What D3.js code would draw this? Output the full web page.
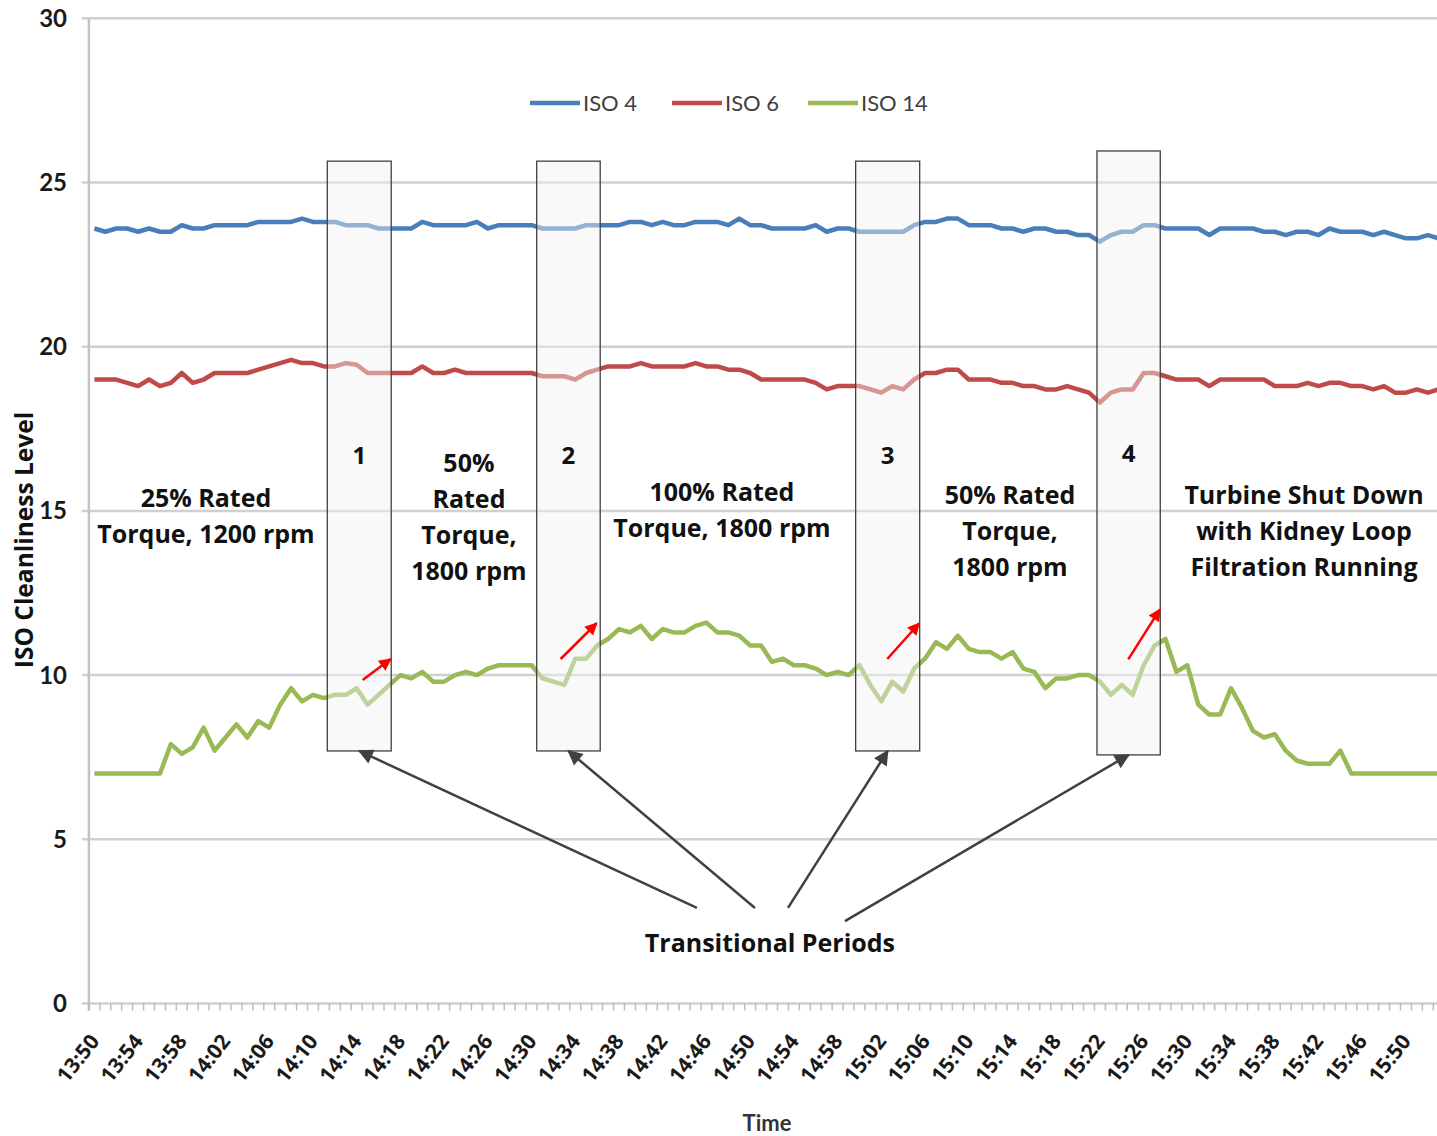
<!DOCTYPE html>
<html><head><meta charset="utf-8">
<script src="https://cdn.jsdelivr.net/npm/d3@7"></script>
<style>body{margin:0;background:#fff;overflow:hidden} svg{display:block}</style>
</head><body>
<svg id="chart" width="1437" height="1136"></svg>
<script>
// ---------- data ----------
const iso4 = [23.6,23.5,23.6,23.6,23.5,23.6,23.5,23.5,23.7,23.6,
  23.6,23.7,23.7,23.7,23.7,23.8,23.8,23.8,23.8,23.9,
  23.8,23.8,23.8,23.7,23.7,23.7,23.6,23.6,23.6,23.6,
  23.8,23.7,23.7,23.7,23.7,23.8,23.6,23.7,23.7,23.7,
  23.7,23.6,23.6,23.6,23.6,23.7,23.7,23.7,23.7,23.8,
  23.8,23.7,23.8,23.7,23.7,23.8,23.8,23.8,23.7,23.9,
  23.7,23.7,23.6,23.6,23.6,23.6,23.7,23.5,23.6,23.6,
  23.5,23.5,23.5,23.5,23.5,23.7,23.8,23.8,23.9,23.9,
  23.7,23.7,23.7,23.6,23.6,23.5,23.6,23.6,23.5,23.5,
  23.4,23.4,23.2,23.4,23.5,23.5,23.7,23.7,23.6,23.6,
  23.6,23.6,23.4,23.6,23.6,23.6,23.6,23.5,23.5,23.4,
  23.5,23.5,23.4,23.6,23.5,23.5,23.5,23.4,23.5,23.4,
  23.3,23.3,23.4,23.3];
const iso6 = [19.0,19.0,19.0,18.9,18.8,19.0,18.8,18.9,19.2,18.9,
  19.0,19.2,19.2,19.2,19.2,19.3,19.4,19.5,19.6,19.5,
  19.5,19.4,19.4,19.5,19.45,19.2,19.2,19.2,19.2,19.2,
  19.4,19.2,19.2,19.3,19.2,19.2,19.2,19.2,19.2,19.2,
  19.2,19.1,19.1,19.1,19.0,19.2,19.3,19.4,19.4,19.4,
  19.5,19.4,19.4,19.4,19.4,19.5,19.4,19.4,19.3,19.3,
  19.2,19.0,19.0,19.0,19.0,19.0,18.9,18.7,18.8,18.8,
  18.8,18.7,18.6,18.8,18.7,19.0,19.2,19.2,19.3,19.3,
  19.0,19.0,19.0,18.9,18.9,18.8,18.8,18.7,18.7,18.8,
  18.7,18.6,18.3,18.6,18.7,18.7,19.2,19.2,19.1,19.0,
  19.0,19.0,18.8,19.0,19.0,19.0,19.0,19.0,18.8,18.8,
  18.8,18.9,18.8,18.9,18.9,18.8,18.8,18.7,18.8,18.6,
  18.6,18.7,18.6,18.7];
const iso14 = [7.0,7.0,7.0,7.0,7.0,7.0,7.0,
  7.9,7.6,7.8,8.4,7.7,8.1,8.5,8.1,8.6,8.4,
  9.1,9.6,9.2,9.4,9.3,9.4,9.4,9.6,9.1,9.4,
  9.7,10.0,9.9,10.1,9.8,9.8,10.0,10.1,10.0,10.2,
  10.3,10.3,10.3,10.3,9.9,9.8,9.7,10.5,10.5,10.9,
  11.1,11.4,11.3,11.5,11.1,11.4,11.3,11.3,11.5,11.6,
  11.3,11.3,11.2,10.9,10.9,10.4,10.5,10.3,10.3,10.2,
  10.0,10.1,10.0,10.3,9.7,9.2,9.8,9.5,10.2,10.5,
  11.0,10.8,11.2,10.8,10.7,10.7,10.5,10.7,10.2,10.1,
  9.6,9.9,9.9,10.0,10.0,9.8,9.4,9.7,9.4,10.3,
  10.9,11.1,10.1,10.3,9.1,8.8,8.8,9.6,9.0,8.3,
  8.1,8.2,7.7,7.4,7.3,7.3,7.3,7.7,
  7.0,7.0,7.0,7.0,7.0,7.0,7.0,7.0,7.0];
const seriesNames = ["ISO 4", "ISO 6", "ISO 14"];
const seriesColors = ["#4a7ebb", "#be4b48", "#98b954"];
// one category per minute, starting at 13:50
const times = iso4.map((_, i) => {
  const m = 13 * 60 + 50 + i;
  return String(Math.floor(m / 60)) + ":" + String(m % 60).padStart(2, "0");
});
const tickLabels = ["13:50","13:54","13:58","14:02","14:06","14:10","14:14","14:18","14:22","14:26","14:30",
  "14:34","14:38","14:42","14:46","14:50","14:54","14:58","15:02","15:06","15:10","15:14","15:18",
  "15:22","15:26","15:30","15:34","15:38","15:42","15:46","15:50"];
const yTicks = [0, 5, 10, 15, 20, 25, 30];

// annotations (x in minutes from 13:50, y in ISO level units)
const boxes = [
  {label: "1", x0: 21.31, x1: 27.16, top: 25.65, bottom: 7.69, ly: 16.67},
  {label: "2", x0: 40.47, x1: 46.28, top: 25.65, bottom: 7.69, ly: 16.67},
  {label: "3", x0: 69.65, x1: 75.51, top: 25.65, bottom: 7.69, ly: 16.67},
  {label: "4", x0: 91.73, x1: 97.52, top: 25.96, bottom: 7.57, ly: 16.76}
];
const redArrows = [
  [24.55, 9.85, 27.11, 10.49],
  [42.66, 10.49, 45.96, 11.58],
  [72.54, 10.49, 75.47, 11.58],
  [94.59, 10.48, 97.49, 12.0]
];
const blackArrowStarts = [[55.13, 2.91], [60.44, 2.91], [63.46, 2.91], [68.67, 2.51]];
const phaseTexts = [
  {x: 10.21, y: 14.83, lines: ["25% Rated", "Torque, 1200 rpm"]},
  {x: 34.27, y: 14.81, lines: ["50%", "Rated", "Torque,", "1800 rpm"]},
  {x: 57.42, y: 15.03, lines: ["100% Rated", "Torque, 1800 rpm"]},
  {x: 83.77, y: 14.39, lines: ["50% Rated", "Torque,", "1800 rpm"]},
  {x: 110.67, y: 14.39, lines: ["Turbine Shut Down", "with Kidney Loop", "Filtration Running"]}
];
const transitionalLabel = {x: 61.81, y: 1.84, text: "Transitional Periods"};

// ---------- layout ----------
const svg = d3.select("#chart");
const plotLeft = 88.9, catStep = 10.93, plotTop = 18.3, plotBottom = 1003.5, plotRight = 1437;
const x = d3.scaleBand().domain(times).range([plotLeft, plotLeft + catStep * times.length]).paddingInner(0).paddingOuter(0);
const bw = x.bandwidth();
const xc = c => x(c) + bw / 2;
const xm = d3.scaleLinear().domain([0, times.length - 1]).range([xc(times[0]), xc(times[times.length - 1])]);
const y = d3.scaleLinear().domain([0, 30]).range([plotBottom, plotTop]);
const font = "Lato, 'Open Sans', sans-serif";
const wideFont = "'Open Sans', Lato, sans-serif";

// gridlines
svg.append("g").selectAll("line").data(yTicks).join("line")
  .attr("x1", plotLeft - 7).attr("x2", plotRight)
  .attr("y1", d => y(d)).attr("y2", d => y(d))
  .attr("stroke", "#d0d0d0").attr("stroke-width", 2.5);
// y axis line
svg.append("line").attr("x1", plotLeft).attr("x2", plotLeft).attr("y1", y(30)).attr("y2", y(0) + 7)
  .attr("stroke", "#c4c4c4").attr("stroke-width", 2.5);
// x axis ticks (category boundaries)
const xTicks = d3.range(times.length + 1).map(i => plotLeft + i * bw);
svg.append("g").selectAll("line").data(xTicks).join("line")
  .attr("x1", d => d).attr("x2", d => d).attr("y1", y(0)).attr("y2", y(0) + 7)
  .attr("stroke", "#bdbdbd").attr("stroke-width", 1.5);
// y tick labels
svg.append("g").selectAll("text").data(yTicks).join("text")
  .attr("x", 67).attr("y", d => y(d)).attr("dy", "0.35em")
  .attr("text-anchor", "end").attr("font-family", font).attr("font-weight", 700)
  .attr("font-size", 24).attr("fill", "#1a1a1a").text(d => d);
// x tick labels
svg.append("g").selectAll("text").data(tickLabels).join("text")
  .attr("transform", d => `translate(${xc(d) + 6},${y(0) + 38}) rotate(-52)`)
  .attr("text-anchor", "end").attr("font-family", wideFont).attr("font-weight", 700)
  .attr("font-size", 21).attr("fill", "#1a1a1a").text(d => d);
// axis titles
svg.append("text").attr("x", 767).attr("y", 1123).attr("dy", "0.35em").attr("text-anchor", "middle")
  .attr("font-family", font).attr("font-weight", 700).attr("font-size", 22).attr("fill", "#333").text("Time");
svg.append("text").attr("transform", "translate(24,540) rotate(-90)").attr("dy", "0.35em")
  .attr("text-anchor", "middle").attr("font-family", wideFont).attr("font-weight", 700)
  .attr("font-size", 24.5).attr("fill", "#111").text("ISO Cleanliness Level");

// series lines
const series = [iso4, iso6, iso14];
const line = d3.line().x((d, i) => xm(i)).y(d => y(d));
svg.append("g").selectAll("path").data(series).join("path")
  .attr("d", line).attr("fill", "none")
  .attr("stroke", (d, i) => seriesColors[i]).attr("stroke-width", 4.5)
  .attr("stroke-linejoin", "round");

// legend
const legendX = [530, 672, 808];
const lg = svg.append("g").selectAll("g").data(seriesNames).join("g")
  .attr("transform", (d, i) => `translate(${legendX[i]},103)`);
lg.append("line").attr("x1", 0).attr("x2", 50).attr("stroke", (d, i) => seriesColors[i]).attr("stroke-width", 4.5);
lg.append("text").attr("x", 53).attr("dy", "0.35em").attr("font-family", font)
  .attr("font-size", 22).attr("fill", "#404040").text(d => d);

// transition boxes
svg.append("g").selectAll("rect").data(boxes).join("rect")
  .attr("x", d => xm(d.x0)).attr("width", d => xm(d.x1) - xm(d.x0))
  .attr("y", d => y(d.top)).attr("height", d => y(d.bottom) - y(d.top))
  .attr("fill", "#f2f2f2").attr("fill-opacity", 0.45)
  .attr("stroke", "#404040").attr("stroke-width", 1.3);
svg.append("g").selectAll("text").data(boxes).join("text")
  .attr("x", d => xm((d.x0 + d.x1) / 2)).attr("y", d => y(d.ly)).attr("dy", "0.35em")
  .attr("text-anchor", "middle").attr("font-family", wideFont).attr("font-weight", 700)
  .attr("font-size", 24).attr("fill", "#111").text(d => d.label);

// arrow markers
const defs = svg.append("defs");
defs.append("marker").attr("id", "ahBlack").attr("viewBox", "0 0 10 10").attr("refX", 9).attr("refY", 5)
  .attr("markerWidth", 7).attr("markerHeight", 6).attr("markerUnits", "strokeWidth").attr("orient", "auto")
  .append("path").attr("d", "M0,0 L10,5 L0,10 Z").attr("fill", "#404040");
defs.append("marker").attr("id", "ahRed").attr("viewBox", "0 0 10 10").attr("refX", 9).attr("refY", 5)
  .attr("markerWidth", 6).attr("markerHeight", 5).attr("markerUnits", "strokeWidth").attr("orient", "auto")
  .append("path").attr("d", "M0,0 L10,5 L0,10 Z").attr("fill", "#ff0000");

svg.append("g").selectAll("line").data(blackArrowStarts).join("line")
  .attr("x1", d => xm(d[0])).attr("y1", d => y(d[1]))
  .attr("x2", (d, i) => xm((boxes[i].x0 + boxes[i].x1) / 2)).attr("y2", (d, i) => y(boxes[i].bottom))
  .attr("stroke", "#404040").attr("stroke-width", 2.5).attr("marker-end", "url(#ahBlack)");
svg.append("g").selectAll("line").data(redArrows).join("line")
  .attr("x1", d => xm(d[0])).attr("y1", d => y(d[1]))
  .attr("x2", d => xm(d[2])).attr("y2", d => y(d[3]))
  .attr("stroke", "#ff0000").attr("stroke-width", 2.5).attr("marker-end", "url(#ahRed)");

// phase texts
const pt = svg.append("g").selectAll("text").data(phaseTexts).join("text")
  .attr("text-anchor", "middle").attr("font-family", wideFont).attr("font-weight", 700)
  .attr("font-size", 25).attr("fill", "#111");
pt.selectAll("tspan").data(d => d.lines.map((l, k) => ({l, k, n: d.lines.length, d}))).join("tspan")
  .attr("x", t => xm(t.d.x))
  .attr("y", t => y(t.d.y) + (t.k - (t.n - 1) / 2) * 36)
  .attr("dy", "0.35em").text(t => t.l);
svg.append("text").attr("x", xm(transitionalLabel.x)).attr("y", y(transitionalLabel.y)).attr("dy", "0.35em")
  .attr("text-anchor", "middle").attr("font-family", wideFont).attr("font-weight", 700)
  .attr("font-size", 25).attr("fill", "#111").text(transitionalLabel.text);
</script>
</body></html>
